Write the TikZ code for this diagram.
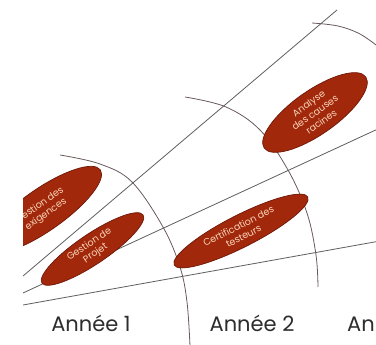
\documentclass[tikz,border=0pt]{standalone}
\usepackage{fontspec}
\setmainfont{Poppins}
\usetikzlibrary{shapes.geometric}
\definecolor{ellfill}{RGB}{162,40,12}
\definecolor{elledge}{RGB}{110,24,8}
\definecolor{elltxt}{RGB}{248,212,184}
\definecolor{raycol}{RGB}{95,95,95}
\definecolor{arccol}{RGB}{105,90,90}
\definecolor{labcol}{RGB}{45,45,45}
\tikzset{
  ray/.style={draw=raycol, line width=0.8pt},
  yeararc/.style={draw=arccol, line width=0.8pt},
  ellbox/.style={ellipse, fill=ellfill, draw=elledge, line width=0.7pt, inner sep=0pt},
  elltext/.style={text=elltxt, font=\fontsize{9.5}{11}\selectfont, align=center, inner sep=0pt},
  yearlab/.style={text=labcol, font=\fontsize{21}{24}\selectfont, anchor=base, inner sep=0pt}
}
\begin{document}
\begin{tikzpicture}[x=1pt,y=-1pt]
\useasboundingbox (0,0) rectangle (376,345);
\fill[white] (0,0) rectangle (376,345);
\begin{scope}
\clip (23,0) rectangle (376,345);
% rays
\coordinate (r1s) at (23,276);
\coordinate (r1e) at (337,10);
\coordinate (r2s) at (23,293);
\coordinate (r2e) at (380,128);
\coordinate (r3s) at (23,305);
\coordinate (r3e) at (380,241);
\draw[ray] (r1s) -- (r1e);
\draw[ray] (r2s) -- (r2e);
\draw[ray] (r3s) -- (r3e);
% year arcs
\draw[yeararc] plot[smooth, tension=0.6] coordinates {(60,155) (100,164) (132,182) (163,227) (180,267) (187,302) (190,346)};
\draw[yeararc] plot[smooth, tension=0.6] coordinates {(185,97) (226,107) (260,130) (288,170) (307,213) (316,255) (318,287)};
\draw[yeararc] plot[smooth, tension=0.6] coordinates {(312,23) (338,26) (360,34) (380,48)};
% ellipses
\node[ellbox, rotate=35, minimum width=140pt, minimum height=42pt] (exi) at (43,210) {};
\node[elltext, rotate=35] at (exi.center) {Gestion des\\exigences};
\node[ellbox, rotate=34, minimum width=122pt, minimum height=30pt] (proj) at (92.5,249) {};
\node[elltext, rotate=34] at (proj.center) {Gestion de\\Projet};
\node[ellbox, rotate=27, minimum width=150pt, minimum height=32pt] (cert) at (241,231) {};
\node[elltext, rotate=27] at (cert.center) {Certification des\\testeurs};
\node[ellbox, rotate=35, minimum width=124pt, minimum height=44pt] (ana) at (315,112.5) {};
\node[elltext, rotate=35] at (ana.center) {Analyse\\des causes\\racines};
% year labels
\node[yearlab] (y1) at (91,331.5) {Année 1};
\node[yearlab] (y2) at (252,331.5) {Année 2};
\node[yearlab, anchor=base west] (y3) at (347,331.5) {An};
\end{scope}
\end{tikzpicture}
\end{document}
